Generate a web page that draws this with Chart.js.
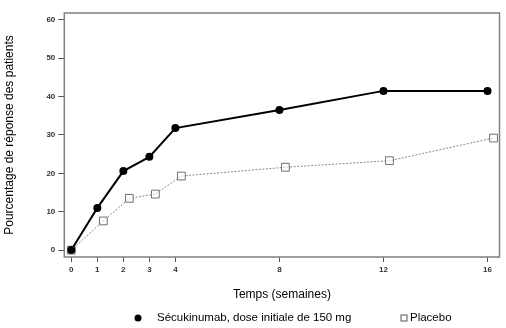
<!DOCTYPE html>
<html lang="fr">
<head>
  <meta charset="UTF-8" />
  <title>Taux de réponse</title>
  <script src="https://cdn.jsdelivr.net/npm/chart.js"></script>
  <style>
    html, body { margin: 0; padding: 0; background: #fff; }
    #wrap { width: 506px; height: 328px; position: relative; }
  </style>
</head>
<body>
  <div id="wrap"><canvas id="respChart" width="506" height="328"></canvas></div>

  <script>
    // data
    const xTicks = [0, 1, 2, 3, 4, 8, 12, 16];
    const secWeeks = [0, 1, 2, 3, 4, 8, 12, 16];
    const secValues = [0, 11.0, 20.6, 24.3, 31.8, 36.5, 41.5, 41.5];
    const placeboWeeks = [0, 1.23, 2.23, 3.23, 4.23, 8.23, 12.23, 16.23];
    const placeboValues = [0, 7.6, 13.5, 14.6, 19.3, 21.6, 23.3, 29.2];
    const yTicks = [0, 10, 20, 30, 40, 50, 60];

    const toPoints = (xs, ys) => xs.map((x, i) => ({ x: x, y: ys[i] }));

    const tickFont = { family: 'Liberation Sans', size: 8, weight: 'bold' };

    // box around the plot area
    const frame = {
      id: 'frame',
      afterDraw(chart) {
        const a = chart.chartArea, c = chart.ctx;
        c.save();
        c.strokeStyle = '#808080';
        c.lineWidth = 1.5;
        c.strokeRect(a.left, a.top, a.right - a.left, a.bottom - a.top);
        c.restore();
      }
    };

    // legend under the axis title, spaced like the original
    const bottomLegend = {
      id: 'bottomLegend',
      afterDraw(chart) {
        const c = chart.ctx;
        const slots = [{ mark: 138, text: 157 }, { mark: 404, text: 410 }];
        const y = 318;
        c.save();
        c.font = '11.5px "Liberation Sans"';
        c.textBaseline = 'middle';
        chart.data.datasets.forEach((ds, i) => {
          const s = slots[i];
          if (ds.pointStyle === 'rect') {
            c.fillStyle = '#fff';
            c.strokeStyle = '#555';
            c.lineWidth = 1;
            c.fillRect(s.mark - 3, y - 3, 6, 6);
            c.strokeRect(s.mark - 3, y - 3, 6, 6);
          } else {
            c.fillStyle = ds.pointBackgroundColor;
            c.beginPath();
            c.arc(s.mark, y, 3.5, 0, Math.PI * 2);
            c.fill();
          }
          c.fillStyle = '#000';
          c.fillText(ds.label, s.text, y);
        });
        c.restore();
      }
    };

    new Chart(document.getElementById('respChart'), {
      type: 'line',
      data: {
        datasets: [
          {
            label: 'Sécukinumab, dose initiale de 150 mg',
            data: toPoints(secWeeks, secValues),
            borderColor: '#000',
            backgroundColor: '#000',
            borderWidth: 2,
            pointRadius: 3,
            pointStyle: 'circle',
            pointBackgroundColor: '#000',
            pointBorderColor: '#000',
            tension: 0
          },
          {
            label: 'Placebo',
            data: toPoints(placeboWeeks, placeboValues),
            borderColor: '#8a8a8a',
            backgroundColor: '#fff',
            borderWidth: 1,
            borderDash: [2, 1.5],
            pointRadius: 5.5,
            pointStyle: 'rect',
            pointBackgroundColor: 'rgba(255,255,255,0.6)',
            pointBorderColor: '#707070',
            pointBorderWidth: 1,
            tension: 0
          }
        ]
      },
      options: {
        responsive: false,
        animation: false,
        layout: { padding: { left: 2, right: 6, top: 13, bottom: 26 } },
        plugins: {
          tooltip: { enabled: false },
          legend: { display: false }
        },
        scales: {
          x: {
            type: 'linear',
            min: -0.27,
            max: 16.46,
            afterBuildTicks(scale) {
              scale.ticks = xTicks.map(v => ({ value: v }));
            },
            grid: { display: true, drawOnChartArea: false, drawTicks: true, tickLength: 5, tickColor: '#555' },
            border: { display: false },
            ticks: { color: '#333', font: tickFont, padding: 3, maxRotation: 0, autoSkip: false },
            title: {
              display: true,
              text: 'Temps (semaines)',
              color: '#000',
              font: { family: 'Liberation Sans', size: 12 },
              padding: { top: 10, bottom: 0 }
            }
          },
          y: {
            type: 'linear',
            min: -1.8,
            max: 61.8,
            afterBuildTicks(scale) {
              scale.ticks = yTicks.map(v => ({ value: v }));
            },
            grid: { display: true, drawOnChartArea: false, drawTicks: true, tickLength: 6, tickColor: '#555' },
            border: { display: false },
            ticks: { color: '#333', font: tickFont, padding: 3 },
            title: {
              display: true,
              text: 'Pourcentage de réponse des patients',
              color: '#000',
              font: { family: 'Liberation Sans', size: 12 },
              padding: { top: 0, bottom: 27 }
            }
          }
        }
      },
      plugins: [frame, bottomLegend]
    });
  </script>
</body>
</html>
